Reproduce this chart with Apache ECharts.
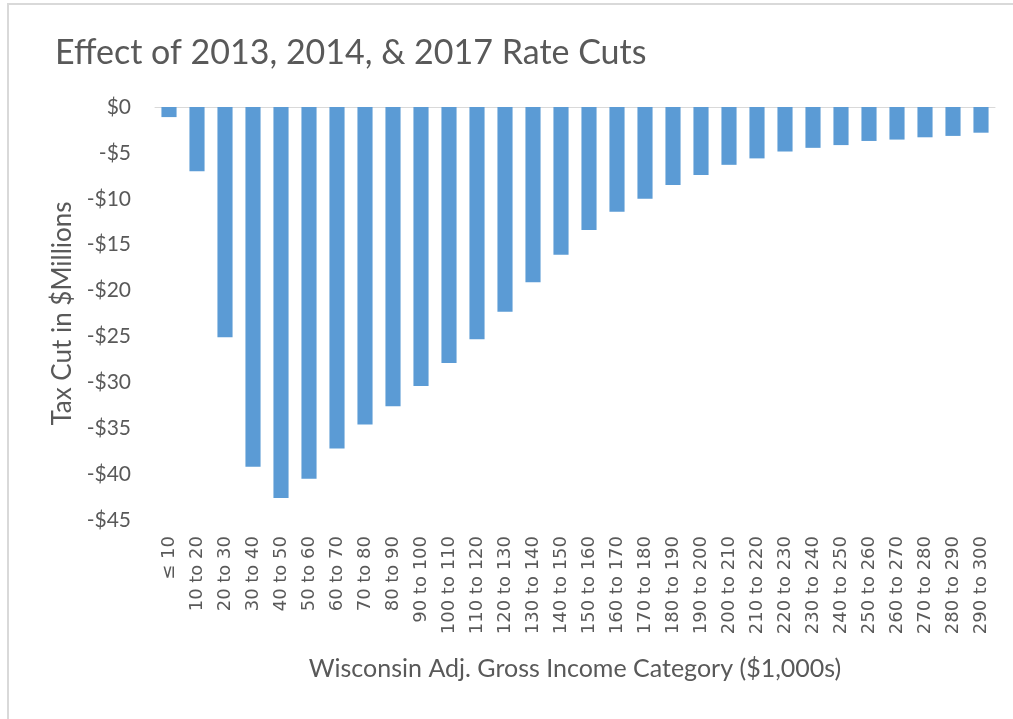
<!DOCTYPE html>
<html>
<head>
<meta charset="utf-8">
<script src="https://cdn.jsdelivr.net/npm/echarts@6/dist/echarts.min.js"></script>
<style>
  html, body { margin: 0; padding: 0; background: #fff; }
  #frame {
    position: absolute; left: 7px; top: 3px; width: 1013px; height: 719px;
    border-left: 2px solid #d9d9d9; border-top: 2px solid #d9d9d9;
  }
  #main { position: absolute; left: 0; top: 0; width: 1013px; height: 719px; }
</style>
</head>
<body>
<div id="frame"></div>
<div id="main"></div>
<script>
// income brackets ($1,000s)
const categories = [
  "≤ 10", "10 to 20", "20 to 30", "30 to 40", "40 to 50", "50 to 60",
  "60 to 70", "70 to 80", "80 to 90", "90 to 100", "100 to 110", "110 to 120",
  "120 to 130", "130 to 140", "140 to 150", "150 to 160", "160 to 170", "170 to 180",
  "180 to 190", "190 to 200", "200 to 210", "210 to 220", "220 to 230", "230 to 240",
  "240 to 250", "250 to 260", "260 to 270", "270 to 280", "280 to 290", "290 to 300"
];
// tax cut, $ millions
const taxCut = [
  -1.1, -7.0, -25.1, -39.2, -42.6, -40.5,
  -37.2, -34.6, -32.6, -30.4, -27.9, -25.3,
  -22.3, -19.1, -16.1, -13.4, -11.4, -10.0,
  -8.5, -7.4, -6.3, -5.6, -4.85, -4.45,
  -4.15, -3.7, -3.55, -3.3, -3.15, -2.8
];
const yTicks = { min: -45, max: 0, step: 5 };

const grey = "#595959";
const myChart = echarts.init(document.getElementById("main"));
myChart.setOption({
  animation: false,
  title: {
    text: "Effect of 2013, 2014, & 2017 Rate Cuts",
    left: 50,
    top: 31,
    textStyle: { fontFamily: "Lato", fontSize: 34, fontWeight: "normal", color: grey }
  },
  grid: { left: 155, right: 18, top: 107, bottom: 199 },
  xAxis: [
    {
      type: "category",
      data: categories,
      position: "bottom",
      axisLine: { show: false, onZero: false },
      axisTick: { show: false },
      axisLabel: {
        rotate: 90, interval: 0, margin: 16,
        fontFamily: "DejaVu Sans", fontSize: 18, color: grey
      },
      name: "Wisconsin Adj. Gross Income Category ($1,000s)",
      nameLocation: "middle",
      nameGap: 136,
      nameTextStyle: { fontFamily: "Lato", fontSize: 25, color: grey }
    },
    {
      // zero line along the top of the plot
      type: "category",
      data: categories,
      position: "top",
      axisLine: { show: true, onZero: false, lineStyle: { color: "#d9d9d9", width: 1 } },
      axisTick: { show: false },
      axisLabel: { show: false }
    }
  ],
  yAxis: {
    type: "value",
    min: yTicks.min,
    max: yTicks.max,
    interval: yTicks.step,
    splitLine: { show: false },
    axisLine: { show: false },
    axisTick: { show: false },
    axisLabel: {
      margin: 24,
      fontFamily: "Lato", fontSize: 21, color: grey,
      formatter: v => (v < 0 ? "-$" + Math.abs(v) : "$" + v)
    },
    name: "Tax Cut in $Millions",
    nameLocation: "middle",
    nameGap: 78,
    nameTextStyle: { fontFamily: "Lato", fontSize: 26, color: grey }
  },
  series: [
    {
      type: "bar",
      data: taxCut,
      barWidth: "54%",
      itemStyle: { color: "#5b9bd5" }
    }
  ]
});
</script>
</body>
</html>
